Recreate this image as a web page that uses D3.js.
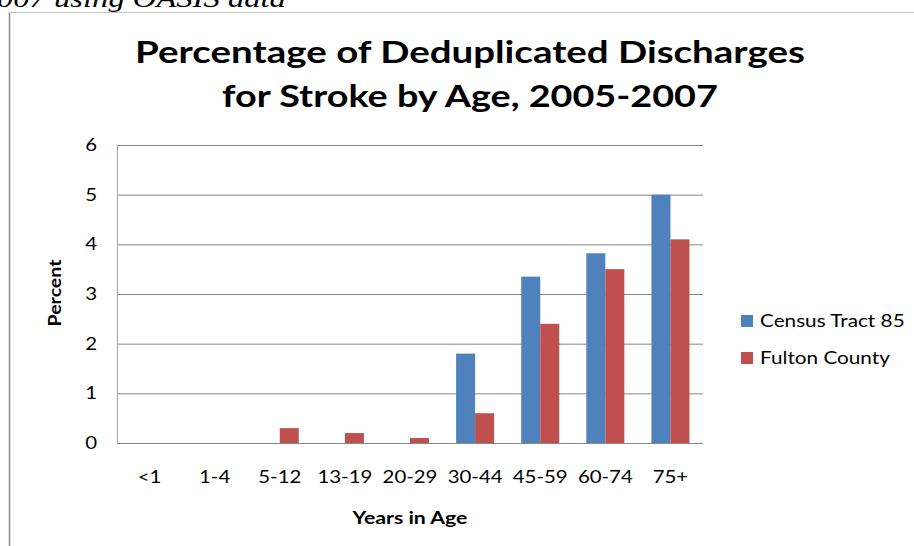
<!DOCTYPE html>
<html>
<head>
<meta charset="utf-8">
<script src="https://cdn.jsdelivr.net/npm/d3@7"></script>
<style>
  html, body { margin: 0; padding: 0; background: #fff; overflow: hidden; }
  svg { display: block; }
</style>
</head>
<body>
<svg id="chart" width="914" height="546"></svg>
<script>
const categories = ["<1", "1-4", "5-12", "13-19", "20-29", "30-44", "45-59", "60-74", "75+"];
const seriesNames = ["Census Tract 85", "Fulton County"];
const censusTract85 = [0, 0, 0, 0, 0, 1.8, 3.35, 3.82, 5.0];
const fultonCounty = [0, 0, 0.3, 0.2, 0.1, 0.6, 2.4, 3.5, 4.1];
const yTicks = [0, 1, 2, 3, 4, 5, 6];
const titleLines = ["Percentage of Deduplicated Discharges", "for Stroke by Age, 2005-2007"];
const topText = "2007 using OASIS data";
const colors = ["#4F81BD", "#C0504D"];

(function () {
const seriesValues = [censusTract85, fultonCounty];
const svg = d3.select("#chart");
const font = "Lato, 'Open Sans', sans-serif";

// horizontal stretch around an anchor point (x, y)
function stretch(el, ax, ay, sx) {
  el.attr("transform", `translate(${ax},${ay}) scale(${sx},1) translate(${-ax},${-ay})`);
}

// page fragment text above the chart (its start is cut by the page edge)
const tt = svg.append("text")
  .attr("x", 0).attr("y", 7)
  .attr("font-family", "'Liberation Serif', 'DejaVu Serif', serif")
  .attr("font-style", "italic")
  .attr("font-size", 25)
  .attr("fill", "#000")
  .text(topText);
{
  const wAll = tt.node().getComputedTextLength();
  const w2 = tt.node().getSubStringLength(0, 1);
  const sx = 289 / (wAll - w2);
  const x0 = -3 - w2 * sx;
  tt.attr("x", 0).attr("transform", `translate(${x0},0) scale(${sx},1)`);
}

// chart frame
svg.append("line").attr("x1", 9.5).attr("x2", 9.5).attr("y1", 12).attr("y2", 546)
  .attr("stroke", "#8a8a8a").attr("stroke-width", 1.5);
svg.append("line").attr("x1", 9).attr("x2", 914).attr("y1", 12.5).attr("y2", 12.5)
  .attr("stroke", "#c8c8c8").attr("stroke-width", 1);

const pLeft = 117, pRight = 703, pTop = 145, pBottom = 443;

const x = d3.scaleBand().domain(categories).range([pLeft, pRight]).padding(0);
const groupW = 38;
const xs = d3.scaleBand().domain(seriesNames)
  .range([(x.bandwidth() - groupW) / 2, (x.bandwidth() + groupW) / 2]).padding(0);
const y = d3.scaleLinear().domain([0, 6]).range([pBottom, pTop]);

// gridlines
const grid = svg.append("g").attr("transform", `translate(${pLeft},0)`)
  .call(d3.axisLeft(y).tickValues(yTicks).tickSize(-(pRight - pLeft)).tickFormat(""));
grid.select(".domain").remove();
grid.selectAll(".tick line").attr("stroke", "#868686").attr("stroke-width", 1);

svg.append("line").attr("x1", pLeft + 0.5).attr("x2", pLeft + 0.5).attr("y1", pTop).attr("y2", pBottom)
  .attr("stroke", "#a6a6a6").attr("stroke-width", 1);

// y tick labels
const yAxis = svg.append("g").attr("transform", `translate(${pLeft - 20},0)`)
  .call(d3.axisLeft(y).tickValues(yTicks).tickSize(0).tickPadding(0).tickFormat(d3.format("d")));
yAxis.select(".domain").remove();
yAxis.selectAll("text").attr("font-family", font).attr("font-size", 17).attr("fill", "#000")
  .each(function () { stretch(d3.select(this), 0, 0, 1.2); });

// bars
seriesNames.forEach((s, si) => {
  svg.append("g").selectAll("rect")
    .data(categories.map((c, i) => ({ c, v: seriesValues[si][i] })))
    .join("rect")
    .attr("x", d => x(d.c) + xs(s))
    .attr("width", xs.bandwidth())
    .attr("y", d => y(d.v))
    .attr("height", d => y(0) - y(d.v))
    .attr("fill", colors[si]);
});

svg.append("line").attr("x1", pLeft).attr("x2", pRight).attr("y1", pBottom + 0.5).attr("y2", pBottom + 0.5)
  .attr("stroke", "#868686").attr("stroke-width", 1);

// x tick labels
const xAxis = svg.append("g").attr("transform", `translate(0,${pBottom + 28})`)
  .call(d3.axisBottom(x).tickSize(0).tickPadding(0));
xAxis.select(".domain").remove();
xAxis.selectAll("text").attr("font-family", font).attr("font-size", 17).attr("fill", "#000")
  .each(function () { stretch(d3.select(this), 0, 0, 1.2); });

// title
const titleWidths = [670, 496];
const titleBase = [63, 107];
titleLines.forEach((t, i) => {
  const el = svg.append("text")
    .attr("x", 470).attr("y", titleBase[i])
    .attr("text-anchor", "middle")
    .attr("font-family", font).attr("font-weight", "bold")
    .attr("font-size", 30).attr("fill", "#000")
    .text(t);
  const w = el.node().getComputedTextLength();
  stretch(el, 470, titleBase[i], titleWidths[i] / w);
});

// axis titles
const pt = svg.append("text")
  .attr("x", 0).attr("y", 0)
  .attr("text-anchor", "middle")
  .attr("font-family", font).attr("font-weight", "bold").attr("font-size", 17)
  .attr("fill", "#000").text("Percent");
{
  const w = pt.node().getComputedTextLength();
  pt.attr("transform", `translate(61,293) rotate(-90) scale(${67 / w},1)`);
}
const xt = svg.append("text")
  .attr("x", 410).attr("y", 524)
  .attr("text-anchor", "middle")
  .attr("font-family", font).attr("font-weight", "bold").attr("font-size", 17)
  .attr("fill", "#000").text("Years in Age");
stretch(xt, 410, 524, 115 / xt.node().getComputedTextLength());

// legend
const legendY = [321, 358];
seriesNames.forEach((s, i) => {
  svg.append("rect").attr("x", 741).attr("y", legendY[i] - 6).attr("width", 12).attr("height", 12)
    .attr("fill", colors[i]);
  const lt = svg.append("text").attr("x", 760).attr("y", legendY[i]).attr("dy", "0.35em")
    .attr("font-family", font).attr("font-size", 17).attr("fill", "#000").text(s);
  stretch(lt, 760, legendY[i], 1.22);
});
})();
</script>
</body>
</html>
